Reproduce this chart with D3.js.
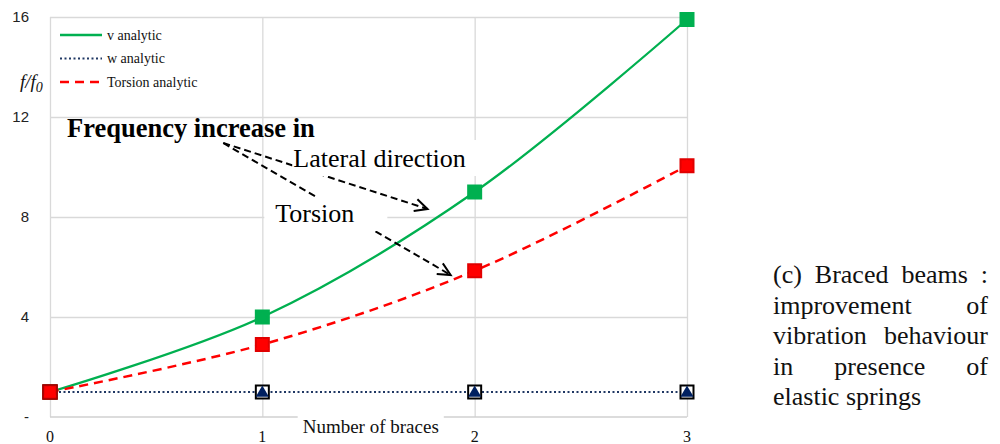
<!DOCTYPE html>
<html>
<head>
<meta charset="utf-8">
<script src="https://cdn.jsdelivr.net/npm/d3@7"></script>
<style>
  body { margin: 0; background: #fff; }
  svg { display: block; }
</style>
</head>
<body>
<div id="chart-container"></div>
<script>
// Data
const braces = [0, 1, 2, 3];
const vAnalytic = [1, 4, 9, 15.9];
const wAnalytic = [1, 1, 1, 1];
const torsionAnalytic = [1, 2.9, 5.85, 10.05];
const yTicks = [0, 4, 8, 12, 16];
const yTickLabels = ["-", "4", "8", "12", "16"];
const legendLabels = ["v analytic", "w analytic", "Torsion analytic"];
const captionLines = ["(c) Braced beams :", "improvement of", "vibration behaviour", "in presence of", "elastic springs"];

const W = 1000, H = 444;
const margin = {top: 17, right: 313, bottom: 27, left: 50},
      width = W - margin.left - margin.right,
      height = H - margin.top - margin.bottom;

const svg = d3.select("#chart-container").append("svg")
    .attr("width", W)
    .attr("height", H);
const g = svg.append("g")
    .attr("transform", `translate(${margin.left}, ${margin.top})`);

const x = d3.scaleLinear().domain([0, 3]).range([0, width]);
const y = d3.scaleLinear().domain([0, 16]).range([height, 0]);

const serif = "'Liberation Serif', 'Times New Roman', serif";
const sans = "'Liberation Sans', Arial, sans-serif";

// Gridlines
g.append("g")
    .call(d3.axisLeft(y).tickValues(yTicks.slice(1)).tickSize(-width).tickFormat(""))
    .call(s => s.select(".domain").remove())
    .selectAll("line").attr("stroke", "#d9d9d9").attr("stroke-width", 1.3);
g.append("g")
    .call(d3.axisBottom(x).tickValues(braces).tickSize(height).tickFormat(""))
    .call(s => s.select(".domain").remove())
    .selectAll("line").attr("stroke", "#d9d9d9").attr("stroke-width", 1.3);
// bottom axis line
g.append("line")
    .attr("x1", 0).attr("x2", width)
    .attr("y1", height).attr("y2", height)
    .attr("stroke", "#d0d0d0").attr("stroke-width", 1.5);

// Y tick labels
g.selectAll(".ytick")
    .data(yTicks)
    .enter().append("text")
    .attr("x", -21)
    .attr("y", d => y(d) + 5)
    .attr("text-anchor", "end")
    .style("font-family", sans)
    .style("font-size", "15px")
    .attr("fill", "#222")
    .text((d, i) => yTickLabels[i]);

// X tick labels
g.selectAll(".xtick")
    .data(braces)
    .enter().append("text")
    .attr("x", d => x(d))
    .attr("y", height + 25)
    .attr("text-anchor", "middle")
    .style("font-family", serif)
    .style("font-size", "16px")
    .attr("fill", "#111")
    .text(d => d);

// Axis titles
const xTitle = g.append("text")
    .attr("x", x(1.19))
    .attr("y", height + 16)
    .style("font-family", serif)
    .style("font-size", "19px")
    .attr("fill", "#111")
    .text("Number of braces");
const xb = xTitle.node().getBBox();
g.insert("rect", () => xTitle.node())
    .attr("x", xb.x - 5).attr("y", height - 1)
    .attr("width", xb.width + 10).attr("height", 4)
    .attr("fill", "#fff");

const yTitle = svg.append("text")
    .attr("x", 20)
    .attr("y", 88)
    .style("font-family", serif)
    .style("font-size", "19px")
    .style("font-style", "italic")
    .attr("fill", "#111");
yTitle.append("tspan").text("f/f");
yTitle.append("tspan").attr("dy", 4).style("font-size", "14px").text("0");

// Series
const series = [
  {name: legendLabels[0], values: vAnalytic, color: "#00b050", dash: null, width: 2.3, curve: d3.curveCatmullRom},
  {name: legendLabels[1], values: wAnalytic, color: "#203864", dash: "2,2.5", width: 2, curve: d3.curveLinear},
  {name: legendLabels[2], values: torsionAnalytic, color: "#ff0000", dash: "9,6", width: 2.5, curve: d3.curveCatmullRom}
];

series.forEach(s => {
  const line = d3.line()
      .x((d, i) => x(braces[i]))
      .y(d => y(d))
      .curve(s.curve);
  g.append("path")
      .datum(s.values)
      .attr("fill", "none")
      .attr("stroke", s.color)
      .attr("stroke-width", s.width)
      .attr("stroke-dasharray", s.dash)
      .attr("d", line);
});

// Markers: square with triangle inside
const markerStyles = [
  {values: wAnalytic, sq: "#fff", sqStroke: "#000", tri: "#002060"},
  {values: vAnalytic, sq: "#00b050", sqStroke: "#00b050", tri: "#00b050"},
  {values: torsionAnalytic, sq: "#ff0000", sqStroke: "#e00000", tri: "#ff0000"}
];
markerStyles.forEach(m => {
  const mg = g.selectAll(null)
      .data(m.values)
      .enter().append("g")
      .attr("transform", (d, i) => `translate(${x(braces[i])}, ${y(d)})`);
  mg.append("rect")
      .attr("x", -6.5).attr("y", -6.5)
      .attr("width", 13).attr("height", 13)
      .attr("fill", m.sq)
      .attr("stroke", m.sqStroke)
      .attr("stroke-width", 2);
  mg.append("path")
      .attr("d", d3.symbol().type(d3.symbolTriangle).size(75))
      .attr("transform", "translate(0,1)")
      .attr("fill", m.tri);
});
// first point: red marker with dark border
g.append("rect")
    .attr("x", x(braces[0]) - 7).attr("y", y(torsionAnalytic[0]) - 7)
    .attr("width", 14).attr("height", 14)
    .attr("fill", "none")
    .attr("stroke", "#a00000")
    .attr("stroke-width", 1.5);

// Legend
const legend = g.append("g").attr("transform", "translate(10, 18)");
series.forEach((s, i) => {
  const row = legend.append("g").attr("transform", `translate(0, ${i * 23.5})`);
  row.append("line")
      .attr("x1", 0).attr("x2", 42)
      .attr("stroke", s.color)
      .attr("stroke-width", s.width)
      .attr("stroke-dasharray", s.dash);
  row.append("text")
      .attr("x", 47)
      .attr("y", 4.5)
      .style("font-family", serif)
      .style("font-size", "14px")
      .attr("fill", "#111")
      .text(s.name);
});

// Annotations
const ann = g.append("g");
function dashedLine(p1, p2) {
  ann.append("line")
      .attr("x1", x(p1[0])).attr("y1", y(p1[1]))
      .attr("x2", x(p2[0])).attr("y2", y(p2[1]))
      .attr("stroke", "#000")
      .attr("stroke-width", 2)
      .attr("stroke-dasharray", "7,4");
}
function arrowHead(from, tip) {
  const x1 = x(from[0]), y1 = y(from[1]), x2 = x(tip[0]), y2 = y(tip[1]);
  const a = Math.atan2(y2 - y1, x2 - x1);
  const L = 14, spread = 0.45;
  const p = [
    [x2 - L * Math.cos(a - spread), y2 - L * Math.sin(a - spread)],
    [x2, y2],
    [x2 - L * Math.cos(a + spread), y2 - L * Math.sin(a + spread)]
  ];
  ann.append("path")
      .attr("d", d3.line()(p))
      .attr("fill", "none")
      .attr("stroke", "#000")
      .attr("stroke-width", 2);
}
const start = [0.816, 10.96];
const lateralTip = [1.778, 8.32];
const torsionTip = [1.887, 5.68];
dashedLine(start, lateralTip);
dashedLine(start, torsionTip);
arrowHead(start, lateralTip);
arrowHead(start, torsionTip);

// white boxes behind labels (they break the arrows and gridlines)
ann.append("rect")
    .attr("x", x(1.141)).attr("y", y(11.08))
    .attr("width", 186).attr("height", y(9.64) - y(11.08))
    .attr("fill", "#fff");
ann.append("rect")
    .attr("x", x(1.0) + 2).attr("y", y(8.8))
    .attr("width", 123).attr("height", y(7.44) - y(8.8))
    .attr("fill", "#fff");

ann.append("text")
    .attr("x", x(0.08)).attr("y", y(11.2))
    .style("font-family", serif)
    .style("font-size", "26.5px")
    .style("font-weight", "bold")
    .attr("fill", "#000")
    .text("Frequency increase in");
ann.append("text")
    .attr("x", x(1.146)).attr("y", y(10.0))
    .style("font-family", serif)
    .style("font-size", "26px")
    .attr("fill", "#000")
    .text("Lateral direction");
ann.append("text")
    .attr("x", x(1.061)).attr("y", y(7.8))
    .style("font-family", serif)
    .style("font-size", "26px")
    .attr("fill", "#000")
    .text("Torsion");

// Caption, justified
const capX = 773, capW = 215, capTop = 283, capLead = 30.5;
captionLines.forEach((line, li) => {
  const words = line.split(" ");
  const widths = words.map(w => {
    const t = svg.append("text")
        .style("font-family", serif).style("font-size", "26px").text(w);
    const wd = t.node().getComputedTextLength();
    t.remove();
    return wd;
  });
  const total = d3.sum(widths);
  const last = li === captionLines.length - 1;
  const gap = last || words.length < 2 ? 6.5 : (capW - total) / (words.length - 1);
  let cx = capX;
  words.forEach((w, wi) => {
    svg.append("text")
        .attr("x", cx)
        .attr("y", capTop + li * capLead)
        .style("font-family", serif)
        .style("font-size", "26px")
        .attr("fill", "#111")
        .text(w);
    cx += widths[wi] + gap;
  });
});
</script>
</body>
</html>
